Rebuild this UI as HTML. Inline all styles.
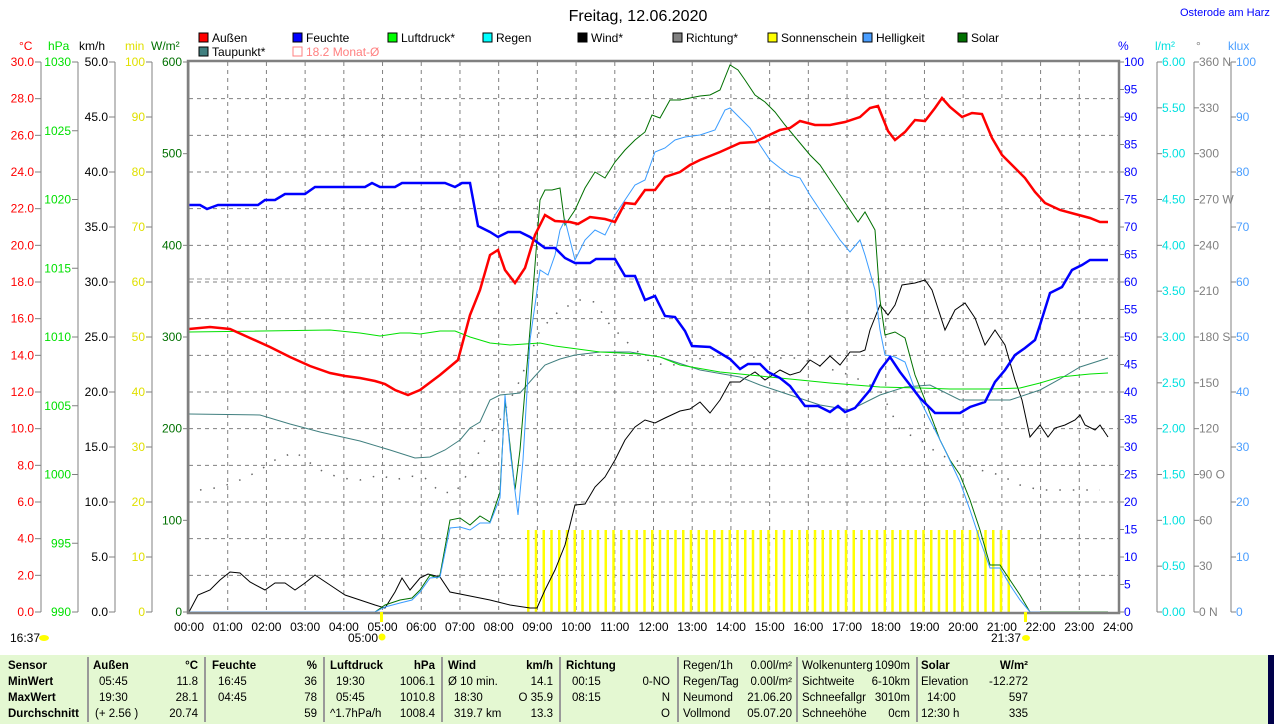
<!DOCTYPE html>
<html><head><meta charset="utf-8"><style>
body{margin:0;background:#fff;}
svg{display:block;font-family:"Liberation Sans",sans-serif;}
</style></head><body>
<svg id="s" width="1274" height="724" xmlns="http://www.w3.org/2000/svg">
<rect width="1274" height="724" fill="#fff"/>
<g id="grid"></g>
<line x1="189" y1="279" x2="1118" y2="279" stroke="#999" stroke-dasharray="5,3"/>
<g id="sun"></g>
<polyline fill="none" stroke="#666" stroke-width="1.5" stroke-dasharray="1.5,12" points="200,490 215,488 230,484 245,478 260,470 275,460 295,452 320,470 340,478 360,480 380,475 395,480 410,476 425,478 440,492 455,493 470,470 485,440 500,420 520,380 540,330 560,310 580,300 595,302 610,325 630,345 650,362 670,366 690,360 720,356 750,357 780,358 800,358 820,366 850,375 880,390 900,430 920,440 940,455 960,462 980,470 1000,475 1020,485 1040,490 1060,490 1080,490 1100,490"/>
<polyline fill="none" stroke="#000" stroke-width="1" points="189,612 198,595 210,590 220,580 230,572 240,573 250,582 265,590 275,583 285,583 295,590 305,583 315,575 330,585 345,595 360,600 375,605 385,608 395,592 402,578 410,590 420,578 428,574 440,577 450,592 470,596 490,600 510,605 530,608 537,608 545,590 555,570 565,545 575,505 585,504 595,487 605,477 615,460 625,440 635,427 645,420 655,423 665,418 680,411 690,409 700,402 710,413 720,400 730,382 740,382 745,378 755,372 765,380 780,370 790,375 800,372 810,360 820,366 830,356 840,365 850,352 860,352 865,350 870,330 880,305 888,315 895,305 902,285 915,283 925,280 932,290 945,330 955,310 965,303 975,318 985,345 995,330 1005,345 1015,380 1022,400 1030,437 1040,425 1048,437 1055,428 1065,425 1075,420 1080,415 1085,425 1095,430 1100,425 1108,437"/>
<polyline fill="none" stroke="#407f7f" stroke-width="1" points="189,414 260,415 290,424 320,432 360,441 390,450 415,458 430,457 445,450 460,440 470,428 480,422 490,400 500,395 520,393 535,376 545,365 560,359 575,355 600,352 630,352 660,357 700,370 740,377 760,385 790,395 820,405 850,410 870,400 880,395 905,387 930,385 960,400 990,400 1010,400 1040,390 1060,379 1080,367 1108,358"/>
<polyline fill="none" stroke="#00e000" stroke-width="1" points="189,332 330,330 360,333 380,336 400,333 410,333 420,334 440,331 455,331 470,337 490,343 510,345 540,343 555,346 570,348 600,352 640,354 660,357 680,365 720,372 760,376 800,380 830,383 880,387 920,388 950,389 990,389 1020,388 1040,383 1060,377 1090,374 1108,373"/>
<polyline fill="none" stroke="#007000" stroke-width="1" points="189,612 375,612 385,605 400,600 412,598 420,590 430,575 437,578 440,575 450,520 460,518 470,525 480,516 490,522 500,492 505,400 510,445 515,490 520,450 530,330 540,200 545,190 552,190 560,188 565,225 575,210 585,188 595,172 605,178 615,162 625,150 635,140 645,132 652,115 660,118 670,100 680,100 690,98 700,96 710,95 720,90 730,65 738,70 745,80 755,95 765,102 775,112 785,125 795,137 810,155 820,165 830,180 840,195 850,210 858,222 865,212 875,230 880,300 885,335 895,332 905,338 915,375 925,400 940,440 950,460 960,475 970,500 980,530 990,565 1000,565 1010,580 1020,595 1030,612 1108,612"/>
<polyline fill="none" stroke="#3a9cff" stroke-width="1" points="189,612 375,612 385,607 400,603 412,600 420,592 430,578 440,577 450,528 460,527 470,530 480,523 490,523 500,498 505,395 510,450 518,515 523,460 530,340 540,270 548,275 555,255 560,230 565,220 575,260 585,240 595,230 605,235 615,215 625,200 635,185 645,180 655,152 665,148 675,140 685,137 700,135 715,130 725,110 730,108 740,118 750,128 760,145 770,160 780,168 790,175 800,178 810,195 820,210 830,225 840,240 850,252 860,240 865,255 875,290 880,330 885,355 895,357 905,362 915,390 930,420 945,450 960,482 970,510 980,540 990,568 1000,568 1010,585 1020,600 1030,612 1040,612"/>
<polyline fill="none" stroke="#0000ff" stroke-width="2.5" points="189,205 200,205 207,209 218,205 258,205 265,200 275,200 285,194 305,194 315,187 365,187 372,183 380,187 395,187 402,183 445,183 455,187 462,183 470,183 478,226 490,232 498,237 508,232 520,232 530,237 545,248 555,248 565,258 575,263 590,263 596,259 615,259 625,276 635,276 645,300 655,296 665,316 675,317 685,331 692,346 710,347 720,353 730,359 740,369 748,364 760,364 768,372 780,378 790,386 805,406 818,406 830,412 838,406 845,412 855,408 870,390 880,370 890,357 900,372 910,385 920,398 935,413 960,413 970,407 985,402 995,382 1005,370 1015,355 1025,348 1035,340 1040,325 1050,293 1062,287 1072,270 1082,265 1090,260 1108,260"/>
<polyline fill="none" stroke="#ff0000" stroke-width="2.5" points="189,329 210,327 230,329 250,338 270,347 290,357 310,366 330,373 345,376 360,378 375,381 385,384 395,390 408,395 420,390 440,375 458,360 470,315 480,290 490,255 498,250 505,270 515,283 525,268 535,235 545,215 555,221 570,222 578,224 590,217 605,219 615,222 625,203 635,204 645,190 655,190 665,177 680,172 690,165 700,160 720,152 740,143 755,142 765,137 780,130 790,128 800,121 815,125 830,125 845,122 860,117 870,108 878,106 888,131 895,140 905,132 915,120 925,121 935,108 942,98 950,107 962,117 972,113 982,114 992,138 1002,155 1015,168 1025,178 1035,192 1045,203 1060,210 1075,214 1090,218 1100,222 1108,222"/>
<rect x="188" y="61" width="931" height="552" fill="none" stroke="#808080" stroke-width="2.5"/>
<g id="axes" font-size="12"></g>
<text x="638" y="21" font-size="16" text-anchor="middle">Freitag, 12.06.2020</text>
<text x="1180" y="16" font-size="11" fill="#0000ff">Osterode am Harz</text>
<g id="leg" font-size="12"></g>
<g font-size="12">
<text x="10" y="642">16:37</text><ellipse cx="44" cy="638" rx="5" ry="3" fill="#ffff00"/>
<text x="348" y="642">05:00</text><circle cx="382" cy="637" r="3.5" fill="#ffff00"/>
<text x="991" y="642">21:37</text><ellipse cx="1026" cy="638" rx="4" ry="3" fill="#ffff00"/>
<rect x="380" y="612" width="3" height="10" fill="#ffff00"/>
<rect x="1024" y="612" width="3" height="10" fill="#ffff00"/>
</g>
<rect x="0" y="655" width="1268" height="69" fill="#e4f8d2"/>
<rect x="1268" y="655" width="6" height="69" fill="#00004a"/>
<g id="tbl" font-size="11.5"></g>
</svg>
<script>
const NS="http://www.w3.org/2000/svg";
function el(p,t,a,txt){const e=document.createElementNS(NS,t);for(const k in a)e.setAttribute(k,a[k]);if(txt!==undefined)e.textContent=txt;document.getElementById(p).appendChild(e);return e;}
for(let i=1;i<15;i++){const y=62+i*550/15;el("grid","line",{x1:189,x2:1118,y1:y,y2:y,stroke:"#808080","stroke-dasharray":"4,4"});}
for(let h=1;h<24;h++){const x=189+h*929/24;el("grid","line",{x1:x,x2:x,y1:62,y2:612,stroke:"#808080","stroke-dasharray":"4,4"});}
for(let x=527;x<=1013;x+=7.75){el("sun","rect",{x:x,y:530,width:2.5,height:82,fill:"#ffff00"});}
for(let h=0;h<=24;h++){const x=189+h*929/24;el("axes","text",{x:x,y:631,"text-anchor":"middle"},(h<10?"0":"")+h+":00");}
function laxis(lx,n,fmt,col){el("axes","line",{x1:lx,x2:lx,y1:62,y2:612,stroke:"#808080"});
 for(let i=0;i<=n;i++){const y=612-i*550/n,l=fmt(i);el("axes","line",{x1:lx-6,x2:lx,y1:y,y2:y,stroke:"#808080"});el("axes","text",{x:lx-7,y:y+4,"text-anchor":"end",fill:col},l);}}
laxis(41,15,i=>(i*2).toFixed(1),"#ff0000");
laxis(78,8,i=>String(990+i*5),"#00e000");
laxis(115,10,i=>(i*5).toFixed(1),"#000");
laxis(152,10,i=>String(i*10),"#e0e000");
laxis(189,6,i=>String(i*100),"#007000");
function raxis(lx,n,fmt,col,line){if(line)el("axes","line",{x1:lx,x2:lx,y1:62,y2:612,stroke:"#808080"});
 for(let i=0;i<=n;i++){const y=612-i*550/n;el("axes","line",{x1:lx,x2:lx+5,y1:y,y2:y,stroke:"#808080"});el("axes","text",{x:lx+5,y:y+4,fill:col},fmt(i));}}
raxis(1119,20,i=>String(i*5),"#0000ff",false);
raxis(1157,12,i=>(i*0.5).toFixed(2),"#00e0e0",true);
const dl={0:" N",3:" O",6:" S",9:" W",12:" N"};
raxis(1194,12,i=>String(i*30)+(dl[i]||""),"#808080",true);
raxis(1231,10,i=>String(i*10),"#4a9eff",true);
[["°C",19,"#ff0000"],["hPa",48,"#00e000"],["km/h",79,"#000"],["min",125,"#e0e000"],["W/m²",151,"#007000"],["%",1118,"#0000ff"],["l/m²",1155,"#00e0e0"],["°",1196,"#808080"],["klux",1228,"#4a9eff"]].forEach(u=>el("axes","text",{x:u[1],y:50,fill:u[2]},u[0]));
[["Außen","#ff0000",199,38],["Feuchte","#0000ff",293,38],["Luftdruck*","#00ff00",388,38],["Regen","#00ffff",483,38],["Wind*","#000",578,38],["Richtung*","#808080",673,38],["Sonnenschein","#ffff00",768,38],["Helligkeit","#4a9eff",863,38],["Solar","#007000",958,38],["Taupunkt*","#407f7f",199,52]].forEach(l=>{el("leg","rect",{x:l[2],y:l[3]-5,width:9,height:9,fill:l[1],stroke:"#000"});el("leg","text",{x:l[2]+13,y:l[3]+4},l[0]);});
el("leg","rect",{x:293,y:47,width:9,height:9,fill:"none",stroke:"#ff8080"});el("leg","text",{x:306,y:56,fill:"#ff8080"},"18.2 Monat-Ø");
[88,205,324,442,560,678,797,917].forEach(x=>el("tbl","line",{x1:x,x2:x,y1:657,y2:722,stroke:"#999","stroke-width":2}));
const Y=[669,685,701,717];
function t(x,r,s,a,b){el("tbl","text",Object.assign({x:x,y:Y[r],"text-anchor":a||"start"},b?{"font-weight":"bold"}:{}),s);}
t(8,0,"Sensor",0,1);t(8,1,"MinWert",0,1);t(8,2,"MaxWert",0,1);t(8,3,"Durchschnitt",0,1);
t(93,0,"Außen",0,1);t(198,0,"°C","end",1);t(99,1,"05:45");t(198,1,"11.8","end");t(99,2,"19:30");t(198,2,"28.1","end");t(95,3,"(+ 2.56 )");t(198,3,"20.74","end");
t(212,0,"Feuchte",0,1);t(317,0,"%","end",1);t(218,1,"16:45");t(317,1,"36","end");t(218,2,"04:45");t(317,2,"78","end");t(317,3,"59","end");
t(330,0,"Luftdruck",0,1);t(435,0,"hPa","end",1);t(336,1,"19:30");t(435,1,"1006.1","end");t(336,2,"05:45");t(435,2,"1010.8","end");t(330,3,"^1.7hPa/h");t(435,3,"1008.4","end");
t(448,0,"Wind",0,1);t(553,0,"km/h","end",1);t(448,1,"Ø 10 min.");t(553,1,"14.1","end");t(454,2,"18:30");t(553,2,"O 35.9","end");t(454,3,"319.7 km");t(553,3,"13.3","end");
t(566,0,"Richtung",0,1);t(572,1,"00:15");t(572,2,"08:15");t(670,1,"0-NO","end");t(670,2,"N","end");t(670,3,"O","end");
t(683,0,"Regen/1h");t(792,0,"0.00l/m²","end");t(683,1,"Regen/Tag");t(792,1,"0.00l/m²","end");t(683,2,"Neumond");t(792,2,"21.06.20","end");t(683,3,"Vollmond");t(792,3,"05.07.20","end");
t(802,0,"Wolkenunterg");t(910,0,"1090m","end");t(802,1,"Sichtweite");t(910,1,"6-10km","end");t(802,2,"Schneefallgr");t(910,2,"3010m","end");t(802,3,"Schneehöhe");t(910,3,"0cm","end");
t(921,0,"Solar",0,1);t(1028,0,"W/m²","end",1);t(921,1,"Elevation");t(1028,1,"-12.272","end");t(927,2,"14:00");t(1028,2,"597","end");t(921,3,"12:30 h");t(1028,3,"335","end");
</script>
</body></html>
